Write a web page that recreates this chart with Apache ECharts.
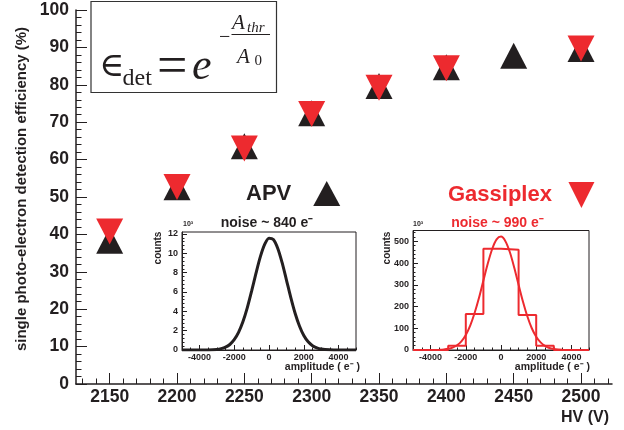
<!DOCTYPE html>
<html>
<head>
<meta charset="utf-8">
<script src="https://cdn.jsdelivr.net/npm/echarts@6/dist/echarts.min.js"></script>
<style>
  html, body { margin: 0; padding: 0; background: #fff; }
  #chart { width: 624px; height: 430px; }
</style>
</head>
<body>
<div id="chart"></div>
<script>
// main plot: efficiency vs HV
const hvTicks = [2150, 2200, 2250, 2300, 2350, 2400, 2450, 2500];
const apvHV = [2150, 2200, 2250, 2300, 2350, 2400, 2450, 2500];
const apvEff = [38.3, 52.6, 63.6, 72.4, 79.7, 84.7, 87.8, 89.6];
const gassHV = [2150, 2200, 2250, 2300, 2350, 2400, 2500];
const gassEff = [40.8, 52.7, 63.0, 72.2, 79.2, 84.4, 89.7];

// APV noise spectrum (counts, 10^3)
const apvAmp = [-5000, -4000, -3500, -3000, -2750, -2500, -2250, -2000, -1750, -1500, -1250, -1000, -750, -500, -250,
  0, 250, 500, 750, 1000, 1250, 1500, 1750, 2000, 2250, 2500, 2750, 3000, 3500, 4000, 5000];
const apvCounts = [0, 0, 0.01, 0.06, 0.14, 0.29, 0.57, 1.06, 1.82, 2.91, 4.35, 6.08, 7.92, 9.63, 10.92,
  11.56, 11.42, 10.52, 9.05, 7.26, 5.44, 3.80, 2.48, 1.50, 0.85, 0.45, 0.22, 0.10, 0.02, 0, 0];

// Gassiplex histogram and gaussian fit (counts, 10^3)
const gassEdges = [-3000, -2000, -1000, 0, 1000, 2000, 3000];
const gassBins = [20, 166, 466, 461, 161, 20];
const gassFitAmp = [-3500, -3250, -3000, -2750, -2500, -2250, -2000, -1750, -1500, -1250, -1000, -750, -500, -250,
  0, 250, 500, 750, 1000, 1250, 1500, 1750, 2000, 2250, 2500, 2750, 3000, 3250, 3500];
const gassFitCounts = [1, 2.4, 5.3, 11, 22, 40, 69, 112, 170, 240, 320, 398, 465, 509,
  522, 501, 451, 380, 300, 222, 154, 100, 61, 35, 19, 9, 4.4, 2, 1];

const ampTicks = [-4000, -2000, 0, 2000, 4000];
const apvYTicks = [0, 2, 4, 6, 8, 10, 12];
const gassYTicks = [0, 100, 200, 300, 400, 500];

const BLACK = '#231f20';
const RED = '#ed2a2f';
const SANS = '"Liberation Sans", Arial, sans-serif';
const SERIF = '"Liberation Serif", "DejaVu Serif", serif';

function range(a, b, step) {
  const out = [];
  for (let v = a; v <= b + 1e-9; v += step) out.push(Math.round(v * 1000) / 1000);
  return out;
}

const zip = (xs, ys) => xs.map((x, i) => [x, ys[i]]);

// histogram outline as step line
const gassHist = [[-5000, 0]];
gassBins.forEach((c, i) => gassHist.push([gassEdges[i], c]));
gassHist.push([gassEdges[gassEdges.length - 1], 0], [5000, 0]);

const chart = echarts.init(document.getElementById('chart'));

const tickLabel = (size) => ({ color: BLACK, fontFamily: SANS, fontWeight: 'bold', fontSize: size, formatter: (v) => String(v) });

function majorAxis(grid, pos, min, max, ticks, len, fontSize, margin) {
  return {
    type: 'value', gridIndex: grid, position: pos, min: min, max: max,
    axisLine: { show: true, onZero: false, lineStyle: { color: BLACK, width: 1 } },
    axisTick: { show: true, inside: true, length: len, customValues: ticks, lineStyle: { color: BLACK } },
    axisLabel: Object.assign({ customValues: ticks, margin: margin }, tickLabel(fontSize)),
    splitLine: { show: false }
  };
}

function minorAxis(grid, pos, min, max, ticks, len) {
  return {
    type: 'value', gridIndex: grid, position: pos, min: min, max: max,
    axisLine: { show: false, onZero: false },
    axisTick: { show: true, inside: true, length: len, customValues: ticks, lineStyle: { color: BLACK } },
    axisLabel: { show: false },
    splitLine: { show: false }
  };
}

const mainX = majorAxis(0, 'bottom', 2125, 2523, hvTicks, 11, 17.5, 4);
mainX.axisLine.lineStyle.width = 1.5;

const option = {
  animation: false,
  backgroundColor: '#fff',
  grid: [
    { left: 76, top: 10, width: 536, height: 374 },
    { left: 182, top: 232, width: 174, height: 118, show: true, backgroundColor: '#fff', borderColor: BLACK, borderWidth: 1 },
    { left: 413, top: 230.5, width: 176, height: 119.5, show: true, backgroundColor: '#fff', borderColor: BLACK, borderWidth: 1 }
  ],
  xAxis: [
    mainX,
    minorAxis(0, 'bottom', 2125, 2523, range(2130, 2520, 10), 5.5),
    majorAxis(1, 'bottom', -5000, 5000, ampTicks, 5, 9, 3),
    minorAxis(1, 'bottom', -5000, 5000, range(-5000, 5000, 500), 2.5),
    majorAxis(2, 'bottom', -5000, 5000, ampTicks, 5, 9, 3),
    minorAxis(2, 'bottom', -5000, 5000, range(-5000, 5000, 500), 2.5)
  ],
  yAxis: [
    {
      type: 'value', gridIndex: 0, position: 'left', min: 0, max: 100, interval: 10,
      axisLine: { show: true, onZero: false, lineStyle: { color: BLACK, width: 1.5 } },
      axisTick: { show: true, inside: true, length: 11, lineStyle: { color: BLACK } },
      minorTick: { show: true, splitNumber: 5, length: 5.5, lineStyle: { color: BLACK } },
      axisLabel: Object.assign({ margin: 7 }, tickLabel(17.5)),
      splitLine: { show: false }
    },
    majorAxis(1, 'left', 0, 12.2, apvYTicks, 5, 9, 4),
    minorAxis(1, 'left', 0, 12.2, range(0, 12, 0.4), 2.5),
    majorAxis(2, 'left', 0, 550, gassYTicks, 5, 9, 4),
    minorAxis(2, 'left', 0, 550, range(0, 540, 20), 2.5)
  ],
  legend: [
    {
      data: [{ name: 'APV', icon: 'triangle' }], left: 246, top: 181, align: 'right', padding: 0, selectedMode: false,
      itemWidth: 27, itemHeight: 25,
      textStyle: { color: BLACK, fontFamily: SANS, fontWeight: 'bold', fontSize: 22, padding: [8, 17, 0, 0] }
    },
    {
      data: [{ name: 'Gassiplex', icon: 'path://M0,0L2,0L1,2Z' }], left: 448, top: 182, align: 'right', padding: 0, selectedMode: false,
      itemWidth: 27, itemHeight: 26,
      textStyle: { color: RED, fontFamily: SANS, fontWeight: 'bold', fontSize: 22, padding: [8, 11, 0, 0] }
    }
  ],
  series: [
    {
      name: 'APV', type: 'scatter', xAxisIndex: 0, yAxisIndex: 0,
      symbol: 'triangle', symbolSize: [27, 26],
      itemStyle: { color: BLACK, opacity: 1 },
      data: zip(apvHV, apvEff), z: 3
    },
    {
      name: 'Gassiplex', type: 'scatter', xAxisIndex: 0, yAxisIndex: 0,
      symbol: 'triangle', symbolRotate: 180, symbolSize: [27, 26],
      itemStyle: { color: RED, opacity: 1 },
      data: zip(gassHV, gassEff), z: 4
    },
    {
      name: 'apv noise', type: 'line', xAxisIndex: 2, yAxisIndex: 1,
      smooth: 0.3, showSymbol: false,
      lineStyle: { color: BLACK, width: 3 },
      data: zip(apvAmp, apvCounts)
    },
    {
      name: 'gass hist', type: 'line', xAxisIndex: 4, yAxisIndex: 3,
      step: 'end', showSymbol: false,
      lineStyle: { color: RED, width: 2 },
      data: gassHist
    },
    {
      name: 'gass fit', type: 'line', xAxisIndex: 4, yAxisIndex: 3,
      smooth: 0.3, showSymbol: false,
      lineStyle: { color: RED, width: 2 },
      data: zip(gassFitAmp, gassFitCounts)
    }
  ],
  graphic: [
    // axis titles
    {
      type: 'text', x: 22, y: 189, rotation: Math.PI / 2,
      style: { text: 'single photo-electron detection efficiency (%)', font: 'bold 15px ' + SANS, fill: BLACK, align: 'center', verticalAlign: 'middle' }
    },
    {
      type: 'text', x: 609, y: 418,
      style: { text: 'HV (V)', font: 'bold 16px ' + SANS, fill: BLACK, align: 'right', verticalAlign: 'middle' }
    },
    // inset labels
    {
      type: 'text', x: 267, y: 223,
      style: { text: 'noise ~ 840 e⁻', font: 'bold 14px ' + SANS, fill: BLACK, align: 'center', verticalAlign: 'middle' }
    },
    {
      type: 'text', x: 497.5, y: 223,
      style: { text: 'noise ~ 990 e⁻', font: 'bold 14px ' + SANS, fill: RED, align: 'center', verticalAlign: 'middle' }
    },
    {
      type: 'text', x: 158.5, y: 248, rotation: Math.PI / 2,
      style: { text: 'counts', font: 'bold 10px ' + SANS, fill: BLACK, align: 'center', verticalAlign: 'middle' }
    },
    {
      type: 'text', x: 387, y: 248, rotation: Math.PI / 2,
      style: { text: 'counts', font: 'bold 10px ' + SANS, fill: BLACK, align: 'center', verticalAlign: 'middle' }
    },
    {
      type: 'text', x: 183, y: 224,
      style: { text: '10³', font: 'bold 7px ' + SANS, fill: BLACK, align: 'left', verticalAlign: 'middle' }
    },
    {
      type: 'text', x: 413, y: 224,
      style: { text: '10³', font: 'bold 7px ' + SANS, fill: BLACK, align: 'left', verticalAlign: 'middle' }
    },
    {
      type: 'text', x: 360, y: 367.5,
      style: { text: 'amplitude ( e⁻ )', font: 'bold 10.5px ' + SANS, fill: BLACK, align: 'right', verticalAlign: 'middle' }
    },
    {
      type: 'text', x: 590, y: 367,
      style: { text: 'amplitude ( e⁻ )', font: 'bold 10.5px ' + SANS, fill: BLACK, align: 'right', verticalAlign: 'middle' }
    },
    // formula box
    {
      type: 'rect', shape: { x: 91, y: 1.5, width: 185.5, height: 91 },
      style: { fill: '#fff', stroke: '#333', lineWidth: 1.2 }, z: 10
    },
    {
      type: 'text', x: 99, y: 67, z: 11,
      style: { text: '∈', font: '34px "DejaVu Serif", serif', fill: BLACK, verticalAlign: 'middle' }
    },
    {
      type: 'text', x: 122.5, y: 79, z: 11,
      style: { text: 'det', font: '24px ' + SERIF, fill: BLACK, verticalAlign: 'middle' }
    },
    {
      type: 'text', x: 157, y: 69, z: 11,
      style: { text: '=', font: '54px ' + SERIF, fill: BLACK, verticalAlign: 'middle' }
    },
    {
      type: 'text', x: 192, y: 67, z: 11,
      style: { text: 'e', font: 'italic 44px ' + SERIF, fill: BLACK, verticalAlign: 'middle' }
    },
    {
      type: 'text', x: 219, y: 38, z: 11,
      style: { text: '−', font: '20px ' + SERIF, fill: BLACK, verticalAlign: 'middle' }
    },
    {
      type: 'text', x: 232, y: 23, z: 11,
      style: { text: 'A', font: 'italic 21px ' + SERIF, fill: BLACK, verticalAlign: 'middle' }
    },
    {
      type: 'text', x: 247, y: 28, z: 11,
      style: { text: 'thr', font: 'italic 15px ' + SERIF, fill: BLACK, verticalAlign: 'middle' }
    },
    {
      type: 'line', shape: { x1: 231.5, y1: 34.5, x2: 270, y2: 34.5 }, z: 11,
      style: { stroke: BLACK, lineWidth: 1 }
    },
    {
      type: 'text', x: 237, y: 57.5, z: 11,
      style: { text: 'A', font: 'italic 21px ' + SERIF, fill: BLACK, verticalAlign: 'middle' }
    },
    {
      type: 'text', x: 254.5, y: 61.5, z: 11,
      style: { text: '0', font: '15px ' + SERIF, fill: BLACK, verticalAlign: 'middle' }
    }
  ]
};

chart.setOption(option);
</script>
</body>
</html>
